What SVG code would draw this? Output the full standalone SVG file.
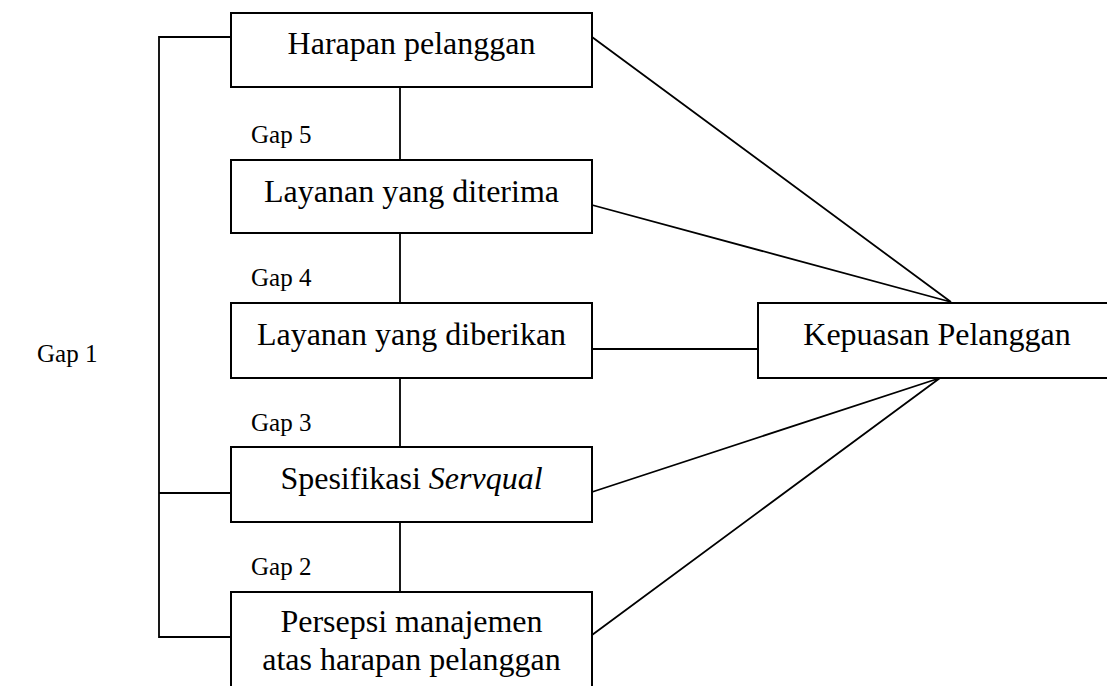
<svg xmlns="http://www.w3.org/2000/svg" width="1107" height="686" viewBox="0 0 1107 686">
<style>
.box{fill:#fff;stroke:#000;stroke-width:2}
.ln{fill:none;stroke:#000;stroke-width:1.8}
.t{font-family:'Liberation Serif','DejaVu Serif',serif;font-size:32px;fill:#000;text-anchor:middle}
.g{font-family:'Liberation Serif','DejaVu Serif',serif;font-size:25px;fill:#000}
</style>
<rect width="1107" height="686" fill="#fff"/>
<g id="connectors">
<path class="ln" d="M231,37 H159 V637 H231 M159,493 H231"/>
<path class="ln" d="M400,87 V160 M400,233 V303 M400,378 V447 M400,522 V592"/>
<path class="ln" d="M592,37 L951,302 M592,205 L951,302 M592,349 H758 M592,492 L940,378 M592,635 L940,378"/>
</g>
<g id="gap-labels">
<text class="g" x="251" y="143">Gap 5</text>
<text class="g" x="251" y="286">Gap 4</text>
<text class="g" x="251" y="431">Gap 3</text>
<text class="g" x="251" y="575">Gap 2</text>
<text class="g" x="37" y="362">Gap 1</text>
</g>
<g id="n1"><rect class="box" x="231" y="13" width="361" height="74"/><text class="t" x="411.5" y="54">Harapan pelanggan</text></g>
<g id="n2"><rect class="box" x="231" y="160" width="361" height="73"/><text class="t" x="411.5" y="202">Layanan yang diterima</text></g>
<g id="n3"><rect class="box" x="231" y="303" width="361" height="75"/><text class="t" x="411.5" y="345">Layanan yang diberikan</text></g>
<g id="n4"><rect class="box" x="231" y="447" width="361" height="75"/><text class="t" x="411.5" y="489">Spesifikasi <tspan font-style="italic">Servqual</tspan></text></g>
<g id="n5"><rect class="box" x="231" y="592" width="361" height="110"/><text class="t" x="411.5" y="632">Persepsi manajemen</text><text class="t" x="411.5" y="670">atas harapan pelanggan</text></g>
<g id="n6"><rect class="box" x="758" y="303" width="360" height="75"/><text class="t" x="937" y="345">Kepuasan Pelanggan</text></g>
</svg>
